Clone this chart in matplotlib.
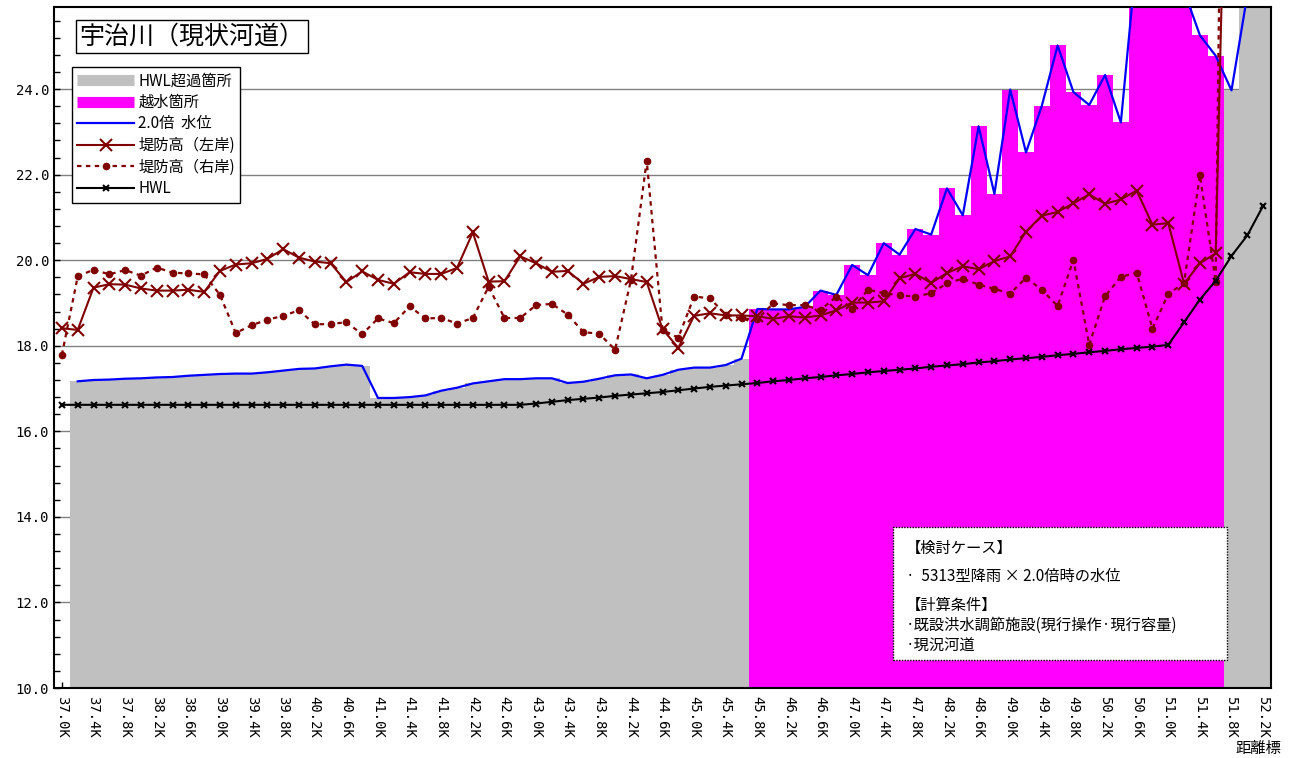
import numpy as np
import matplotlib
matplotlib.use("Agg")
import matplotlib.pyplot as plt
from matplotlib.lines import Line2D
from matplotlib.patches import Rectangle

plt.rcParams['font.family'] = ['Noto Sans CJK JP', 'DejaVu Sans']

# 距離標 37.0K ～ 52.2K (0.2K刻み)
kyori = ["%.1fK" % (37.0 + 0.2 * i) for i in range(77)]

# HWL
hwl = [16.62] * 30 + [
    16.65, 16.69, 16.73, 16.76, 16.79, 16.83, 16.86, 16.89, 16.92, 16.96,
    17.00, 17.04, 17.07, 17.10, 17.13, 17.17, 17.20, 17.24, 17.27, 17.31,
    17.34, 17.38, 17.41, 17.44, 17.47, 17.51, 17.54, 17.57, 17.61, 17.64,
    17.68, 17.71, 17.74, 17.78, 17.81, 17.85, 17.88, 17.92, 17.95, 17.98,
    18.02, 18.55, 19.08, 19.52, 20.10, 20.58, 21.27]

# 2.0倍 水位
suii = [np.nan,
    17.17, 17.20, 17.21, 17.23, 17.24, 17.26, 17.27, 17.30, 17.32, 17.34,
    17.35, 17.35, 17.38, 17.42, 17.46, 17.47, 17.52, 17.56, 17.53, 16.78,
    16.78, 16.80, 16.84, 16.95, 17.02, 17.12, 17.17, 17.22, 17.22, 17.24,
    17.24, 17.13, 17.16, 17.23, 17.31, 17.33, 17.24, 17.32, 17.44, 17.49,
    17.49, 17.55, 17.70, 18.86, 18.85, 18.85, 18.91, 19.29, 19.19, 19.89,
    19.65, 20.40, 20.13, 20.73, 20.60, 21.68, 21.05, 23.13, 21.55, 23.99,
    22.52, 23.61, 25.02, 23.93, 23.63, 24.33, 23.22, 27.10, 27.60, 27.30,
    26.30, 25.26, 24.78, 23.97, 26.20, 27.50]

# 堤防高（左岸）
sagan = [
    18.41, 18.37, 19.36, 19.44, 19.43, 19.34, 19.29, 19.29, 19.31, 19.26,
    19.75, 19.90, 19.93, 20.03, 20.26, 20.06, 19.97, 19.93, 19.49, 19.74,
    19.54, 19.45, 19.72, 19.68, 19.68, 19.82, 20.65, 19.50, 19.51, 20.09,
    19.93, 19.73, 19.75, 19.45, 19.61, 19.63, 19.56, 19.49, 18.39, 17.95,
    18.70, 18.76, 18.71, 18.71, 18.69, 18.63, 18.69, 18.66, 18.71, 18.83,
    19.01, 19.01, 19.04, 19.58, 19.68, 19.47, 19.70, 19.86, 19.79, 19.98,
    20.09, 20.67, 21.04, 21.13, 21.33, 21.54, 21.32, 21.42, 21.63, 20.83,
    20.87, 19.45, 19.93, 20.16, 36.00, np.nan, np.nan]

# 堤防高（右岸）
ugan = [
    17.79, 19.62, 19.78, 19.67, 19.77, 19.64, 19.83, 19.71, 19.69, 19.67,
    19.19, 18.30, 18.48, 18.61, 18.70, 18.83, 18.50, 18.51, 18.55, 18.27,
    18.64, 18.53, 18.92, 18.64, 18.65, 18.52, 18.65, 19.38, 18.65, 18.65,
    18.95, 18.98, 18.73, 18.32, 18.28, 17.91, 19.53, 22.33, 18.37, 18.19,
    19.15, 19.11, 18.73, 18.64, 18.62, 18.99, 18.95, 18.95, 18.84, 19.15,
    18.87, 19.31, 19.23, 19.18, 19.15, 19.23, 19.46, 19.57, 19.43, 19.33,
    19.22, 19.59, 19.31, 18.93, 20.01, 18.02, 19.16, 19.61, 19.71, 18.40,
    19.21, 19.47, 21.99, 19.50, 50.00, np.nan, np.nan]

x = np.arange(len(kyori))
wl = np.array(suii)
teibo = np.fmin(np.array(sagan), np.array(ugan))
hwl_over = np.where(wl > np.array(hwl), wl, np.nan)
etsusui = np.where(wl > teibo, wl, np.nan)

fig = plt.figure(figsize=(12.91, 7.58), dpi=100)
ax = fig.add_axes([54/1291, 70/758, 1217/1291, 681/758])
ax.set_axisbelow(True)

ax.bar(x, hwl_over, width=1.0, color="#c0c0c0", zorder=1)
ax.bar(x, etsusui, width=1.0, color="#ff00ff", zorder=1)
ax.plot(x, suii, color="#0000ff", lw=1.6, zorder=3)
ax.plot(x, sagan, color="#800000", lw=1.5, marker="x", ms=8, mew=1.5, zorder=4)
ax.plot(x, ugan, color="#800000", lw=1.6, ls=(0, (2, 2)), marker="o", ms=4.5, zorder=4)
ax.plot(x, hwl, color="black", lw=1.5, marker="x", ms=4, mew=1.5, zorder=5)

ax.set_xlim(-0.5, 76.5)
ax.set_ylim(10.0, 25.92)
ax.set_yticks(np.arange(10, 25, 2))
ax.set_yticklabels(["%.1f" % v for v in np.arange(10, 25, 2)], fontsize=10,
                   family="DejaVu Sans Mono")
ax.set_yticks(np.arange(10, 25.9, 0.4), minor=True)
ax.set_xticks(x[::2])
ax.set_xticklabels(kyori[::2], rotation=-90, fontsize=10, family="DejaVu Sans Mono")
ax.set_xticks(x[1::2], minor=True)
ax.tick_params(axis="both", which="both", direction="in", length=4, width=1)
ax.tick_params(axis="x", pad=6)
ax.grid(axis="y", which="major", color="#808080", lw=1)
for s in ax.spines.values():
    s.set_linewidth(1.5)

# タイトル
ax.text(0.021, 0.957, "宇治川（現状河道）", transform=ax.transAxes, fontsize=18,
        va="center", ha="left",
        bbox=dict(boxstyle="square,pad=0.15", fc="white", ec="black", lw=1))

# 凡例
handles = [
    Line2D([], [], color="#c0c0c0", lw=8, solid_capstyle="butt"),
    Line2D([], [], color="#ff00ff", lw=8, solid_capstyle="butt"),
    Line2D([], [], color="#0000ff", lw=1.6),
    Line2D([], [], color="#800000", lw=1.5, marker="x", ms=8, mew=1.5),
    Line2D([], [], color="#800000", lw=1.6, ls=(0, (2, 2)), marker="o", ms=4.5),
    Line2D([], [], color="black", lw=1.5, marker="x", ms=4, mew=1.5),
]
names = ["HWL超過箇所", "越水箇所", "2.0倍  水位", "堤防高（左岸)", "堤防高（右岸)", "HWL"]
leg = ax.legend(handles, names, loc="upper left", bbox_to_anchor=(0.0148, 0.912),
                borderaxespad=0, fontsize=11, fancybox=False, framealpha=1,
                edgecolor="black", handlelength=3.7, handletextpad=0.3,
                labelspacing=0.3, borderpad=0.35)
leg.get_frame().set_linewidth(1)

# 検討ケース
x0, x1 = (893-54)/1217, (1227-54)/1217
y0, y1 = (688-660)/681, (688-527)/681
ax.add_patch(Rectangle((x0, y0), x1-x0, y1-y0, transform=ax.transAxes,
                       fc="white", ec="black", lw=1, ls=(0, (1, 1)), zorder=6))
notes = [("【検討ケース】", 548), ("·  5313型降雨 × 2.0倍時の水位", 576),
         ("【計算条件】", 605), ("·既設洪水調節施設(現行操作·現行容量)", 625),
         ("·現況河道", 646)]
for t, py in notes:
    ax.text((906-54)/1217, (688-py)/681, t, transform=ax.transAxes, fontsize=11,
            va="center", ha="left", zorder=7)

fig.text(1258/1291, 1-748/758, "距離標", fontsize=11, ha="center", va="center")

fig.savefig("out.png", dpi=100)
